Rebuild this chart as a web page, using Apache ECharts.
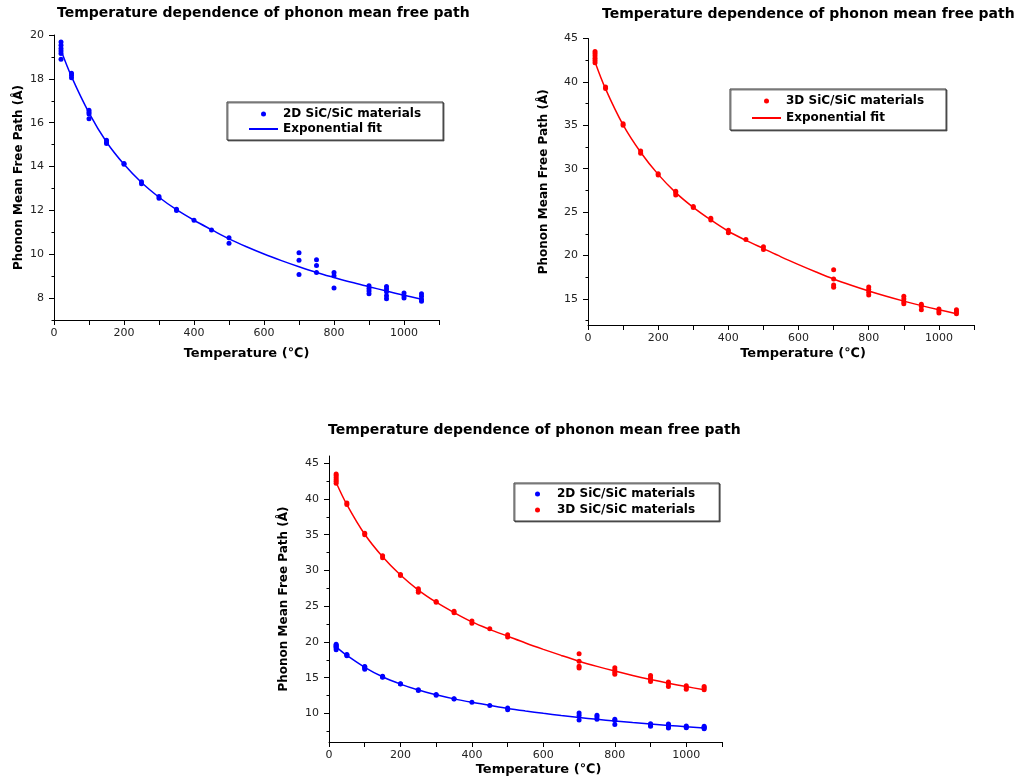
<!DOCTYPE html>
<html>
<head>
<meta charset="utf-8">
<script src="https://cdn.jsdelivr.net/npm/echarts@6/dist/echarts.min.js"></script>
<style>
html,body{margin:0;padding:0;background:#fff;}
#c{width:1026px;height:783px;}
</style>
</head>
<body>
<div id="c"></div>
<script>
// ---- data ----
const TITLE = 'Temperature dependence of phonon mean free path';
const X_NAME = 'Temperature (\u2103)';
const Y_NAME = 'Phonon Mean Free Path (\u00C5)';
const NAME_2D = '2D SiC/SiC materials';
const NAME_3D = '3D SiC/SiC materials';
const NAME_FIT = 'Exponential fit';

const T2D = [20,50,100,150,200,250,300,350,400,450,500,700,750,800,900,950,1000,1050];
const MFP2D = [
  [19.68,19.53,19.38,19.27,19.16,18.89],
  [18.25,18.16,18.05],
  [16.57,16.48,16.40,16.18],
  [15.20,15.11,15.05],
  [14.14,14.11],
  [13.31,13.22],
  [12.63,12.55],
  [12.05,12.00],
  [11.55],
  [11.10],
  [10.75,10.50],
  [10.07,9.72,9.08],
  [9.75,9.49,9.17],
  [9.17,9.02,8.46],
  [8.56,8.44,8.32,8.20],
  [8.53,8.41,8.29,8.11,7.97],
  [8.23,8.11,8.00],
  [8.20,8.08,7.95,7.86]
];
const T3D = [20,50,100,150,200,250,300,350,400,450,500,700,800,900,950,1000,1050];
const MFP3D = [
  [43.50,43.27,43.00,42.73,42.46,42.20],
  [39.42,39.23],
  [35.19,35.00],
  [32.04,31.77],
  [29.42,29.27],
  [27.42,27.23,26.96],
  [25.65,25.54],
  [24.30,24.08],
  [22.92,22.62],
  [21.85],
  [21.00,20.70],
  [18.35,17.30,16.60,16.35],
  [16.38,16.08,15.77,15.46],
  [15.31,15.00,14.69,14.46],
  [14.38,14.15,13.77],
  [13.85,13.62,13.38],
  [13.77,13.54,13.31]
];
const FIT_T  = [20,50,100,150,200,250,300,350,400,450,500,550,600,650,700,750,800,850,900,950,1000,1050];
const FIT2D  = [19.3,18.1,16.45,15.12,14.1,13.27,12.6,12.03,11.55,11.12,10.7,10.34,10.01,9.71,9.43,9.17,8.94,8.72,8.52,8.32,8.13,7.95];
const FIT3D  = [42.3,39.2,35.05,31.9,29.35,27.25,25.55,24.1,22.8,21.75,20.8,19.85,18.96,18.11,17.3,16.58,15.92,15.31,14.75,14.23,13.75,13.3];

const X_LABELS = [0,200,400,600,800,1000];
const X_TICKS  = [0,100,200,300,400,500,600,700,800,900,1000,1100];
const Y1_LABELS = [8,10,12,14,16,18,20];
const Y1_MINOR  = [7,9,11,13,15,17,19];
const Y2_LABELS = [15,20,25,30,35,40,45];
const Y2_MINOR  = [12.5,17.5,22.5,27.5,32.5,37.5,42.5];
const Y3_LABELS = [10,15,20,25,30,35,40,45];
const Y3_MINOR  = [7.5,12.5,17.5,22.5,27.5,32.5,37.5,42.5];

// ---- build ----
const BLUE = '#0000ff', RED = '#ff0000';
const FONT = 'DejaVu Sans';
function pts(T, V){ const out=[]; T.forEach((t,i)=>V[i].forEach(v=>out.push([t,v]))); return out; }
function fit(T, V){ return T.map((t,i)=>[t,V[i]]); }
const plain = v => String(v);

const grids = [
  {left:54, top:35, right:587, bottom:463},
  {left:588, top:38.5, right:52, bottom:458},
  {left:329, top:456, right:304, bottom:41}
];
const yr = [[7,20],[12,45],[6,46]];
const yl = [Y1_LABELS,Y2_LABELS,Y3_LABELS];
const ym = [Y1_MINOR,Y2_MINOR,Y3_MINOR];
const yGap = [29,38,39];
const xGap = [27,22,21];
const xPad = [[0,0,0,0],[0,0,0,44],[0,0,0,26]];

const axLine = {show:true, lineStyle:{color:'#000', width:1}};
const xAxis = grids.map((g,i)=>({
  type:'value', gridIndex:i, min:0, max:1100, interval:100,
  axisLine: axLine, splitLine:{show:false},
  axisTick:{show:true, inside:false, length:5, lineStyle:{color:'#000'}, customValues:X_TICKS},
  axisLabel:{show:true, margin:8, color:'#222', fontFamily:FONT, fontSize:11, customValues:X_LABELS, formatter:plain},
  name:X_NAME, nameLocation:'middle', nameGap:xGap[i],
  nameTextStyle:{fontFamily:FONT, fontWeight:'bold', fontSize:13, color:'#000', padding:xPad[i]}
}));
const yAxis = [];
grids.forEach((g,i)=>{
  yAxis.push({
    type:'value', gridIndex:i, min:yr[i][0], max:yr[i][1],
    axisLine: axLine, splitLine:{show:false},
    axisTick:{show:true, inside:false, length:5, lineStyle:{color:'#000'}, customValues:yl[i]},
    axisLabel:{show:true, margin:10, color:'#222', fontFamily:FONT, fontSize:11, customValues:yl[i], formatter:plain},
    name:Y_NAME, nameLocation:'middle', nameGap:yGap[i],
    nameTextStyle:{fontFamily:FONT, fontWeight:'bold', fontSize:12, color:'#000'}
  });
});
grids.forEach((g,i)=>{
  yAxis.push({
    type:'value', gridIndex:i, min:yr[i][0], max:yr[i][1], position:'left', offset:0,
    axisLine:{show:false}, splitLine:{show:false}, axisLabel:{show:false},
    axisTick:{show:true, inside:false, length:2.5, lineStyle:{color:'#000'}, customValues:ym[i]}
  });
});

const titles = [
  {left:57, top:6},{left:602, top:7},{left:328, top:423}
].map(p=>({text:TITLE, left:p.left, top:p.top, padding:0,
  textStyle:{fontFamily:FONT, fontWeight:'bold', fontSize:14, color:'#000'}}));

const legendBase = {
  orient:'vertical', itemWidth:29, itemHeight:5, itemGap:1,
  borderColor:'#333', borderWidth:1, backgroundColor:'#fff',
  shadowColor:'rgba(0,0,0,0.5)', shadowOffsetX:1, shadowOffsetY:1, shadowBlur:0,
  textStyle:{fontFamily:FONT, fontWeight:'bold', fontSize:12, color:'#000', lineHeight:14}
};
const legends = [
  Object.assign({}, legendBase, {left:227, top:102, padding:[5,22,4,21],
    data:[{name:NAME_2D, icon:'circle'}, {name:NAME_FIT+' ', itemStyle:{opacity:0}}]}),
  Object.assign({}, legendBase, {left:730, top:89, padding:[5,22,5,21], itemGap:3,
    data:[{name:NAME_3D, icon:'circle'}, {name:NAME_FIT, itemStyle:{opacity:0}}]}),
  Object.assign({}, legendBase, {left:514, top:483, padding:[4,20,4,21], itemGap:2,
    data:[{name:NAME_2D+' ', icon:'circle'}, {name:NAME_3D+' ', icon:'circle'}]})
];

function lineS(name, xi, yi, data, color){
  return {type:'line', name, xAxisIndex:xi, yAxisIndex:yi, data, smooth:0.35, symbol:'none',
    lineStyle:{color, width:1.5}, itemStyle:{color}, z:2, animation:false};
}
function scatS(name, xi, yi, data, color){
  return {type:'scatter', name, xAxisIndex:xi, yAxisIndex:yi, data, symbol:'circle', symbolSize:5,
    itemStyle:{color, opacity:1}, z:3, animation:false};
}
const series = [
  lineS(NAME_FIT+' ', 0, 0, fit(FIT_T, FIT2D), BLUE),
  scatS(NAME_2D, 0, 0, pts(T2D, MFP2D), BLUE),
  lineS(NAME_FIT, 1, 1, fit(FIT_T, FIT3D), RED),
  scatS(NAME_3D, 1, 1, pts(T3D, MFP3D), RED),
  lineS('fit2D-b', 2, 2, fit(FIT_T, FIT2D), BLUE),
  lineS('fit3D-b', 2, 2, fit(FIT_T, FIT3D), RED),
  scatS(NAME_2D+' ', 2, 2, pts(T2D, MFP2D), BLUE),
  scatS(NAME_3D+' ', 2, 2, pts(T3D, MFP3D), RED)
];

const chart = echarts.init(document.getElementById('c'), null, {renderer:'canvas'});
chart.setOption({
  backgroundColor:'#fff', animation:false,
  title:titles, grid:grids, xAxis, yAxis, legend:legends, series
});
</script>
</body>
</html>
